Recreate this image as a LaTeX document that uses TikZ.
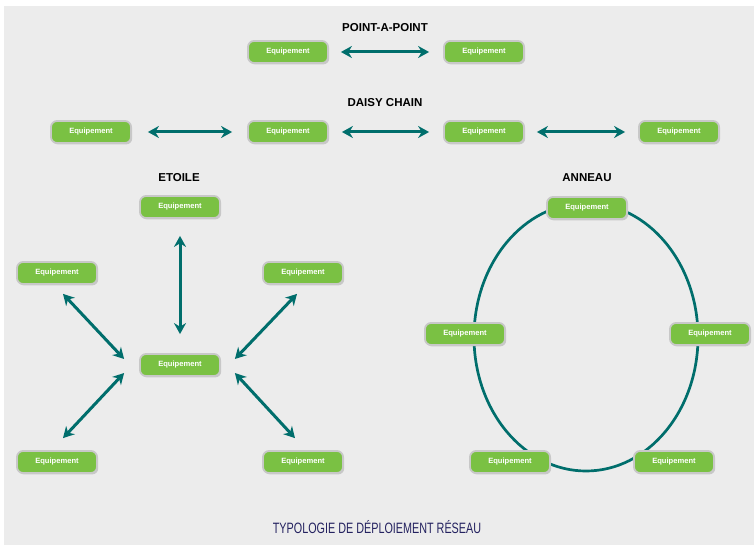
\documentclass[tikz,border=0pt]{standalone}
\usepackage{fontspec}
\setmainfont{Liberation Sans}
\newfontfamily\captionfont[FakeStretch=0.72]{Liberation Sans}
\usepackage{tikz}
\usetikzlibrary{positioning, arrows.meta, shadows}
\definecolor{bggray}{RGB}{236,236,236}
\definecolor{eqgreen}{RGB}{122,193,67}
\definecolor{eqborder}{RGB}{200,200,200}
\definecolor{linkteal}{RGB}{0,110,108}
\definecolor{capnavy}{RGB}{36,34,96}
\tikzset{
	equip/.style={rectangle, rounded corners=6pt, fill=eqgreen, draw=eqborder, line width=1.8pt,
		minimum width=80pt, minimum height=22pt, inner sep=0pt,
		font=\fontsize{7.6}{9}\selectfont\bfseries, text=white,
		drop shadow={shadow xshift=1.2pt, shadow yshift=-1.4pt, fill=black!30, opacity=0.6}},
	titre/.style={font=\fontsize{11.5}{13}\selectfont\bfseries, text=black},
	lien/.style={{Stealth[length=11pt,width=12pt]}-{Stealth[length=11pt,width=12pt]}, line width=3pt, draw=linkteal},
	anneau/.style={line width=2.7pt, draw=linkteal}
}
\begin{document}
\begin{tikzpicture}[x=1pt, y=-1pt]
	\useasboundingbox (0,0) rectangle (754,545);
	\fill[bggray] (4,6) rectangle (754,545);

	% point a point
	\node[titre] (tpp) at (385,28) {POINT-A-POINT};
	\node[equip] (pp1) at (288,52) {Equipement};
	\node[equip] (pp2) at (484,52) {Equipement};
	\draw[lien] ([xshift=12pt]pp1.east) -- ([xshift=-14pt]pp2.west);

	% daisy chain
	\node[titre] (tdc) at (385,103) {DAISY CHAIN};
	\node[equip] (dc1) at (91,132) {Equipement};
	\node[equip] (dc2) at (288,132) {Equipement};
	\node[equip] (dc3) at (484,132) {Equipement};
	\node[equip] (dc4) at (679,132) {Equipement};
	\draw[lien] ([xshift=16pt]dc1.east) -- ([xshift=-15pt]dc2.west);
	\draw[lien] ([xshift=13pt]dc2.east) -- ([xshift=-14pt]dc3.west);
	\draw[lien] ([xshift=12pt]dc3.east) -- ([xshift=-13pt]dc4.west);

	% etoile
	\node[titre] (tet) at (179,178) {ETOILE};
	\node[equip] (ec) at (180,365) {Equipement};
	\node[equip] (eh) at (180,207) {Equipement};
	\node[equip] (ehg) at (57,273) {Equipement};
	\node[equip] (ehd) at (303,273) {Equipement};
	\node[equip] (ebg) at (57,462) {Equipement};
	\node[equip] (ebd) at (303,462) {Equipement};
	\draw[lien] ([yshift=-17pt]eh.south) -- ([yshift=19pt]ec.north);
	\draw[lien] ([xshift=6pt,yshift=-9pt]ehg.south) -- ([xshift=-15pt,yshift=6pt]ec.west);
	\draw[lien] ([xshift=-6pt,yshift=-9pt]ehd.south) -- ([xshift=14pt,yshift=6pt]ec.east);
	\draw[lien] ([xshift=6pt,yshift=12pt]ebg.north) -- ([xshift=-15pt,yshift=-8pt]ec.west);
	\draw[lien] ([xshift=-8pt,yshift=12pt]ebd.north) -- ([xshift=14pt,yshift=-8pt]ec.east);

	% anneau
	\node[titre] (tan) at (587,178) {ANNEAU};
	\draw[anneau] (586,337) ellipse [x radius=112, y radius=134];
	\node[equip] (ah) at (587,208) {Equipement};
	\node[equip] (ag) at (465,334) {Equipement};
	\node[equip] (ad) at (710,334) {Equipement};
	\node[equip] (abg) at (510,462) {Equipement};
	\node[equip] (abd) at (674,462) {Equipement};

	\node[font=\captionfont\fontsize{15}{17}\selectfont, text=capnavy] (legende) at (377,527) {TYPOLOGIE DE DÉPLOIEMENT RÉSEAU};
\end{tikzpicture}
\end{document}
